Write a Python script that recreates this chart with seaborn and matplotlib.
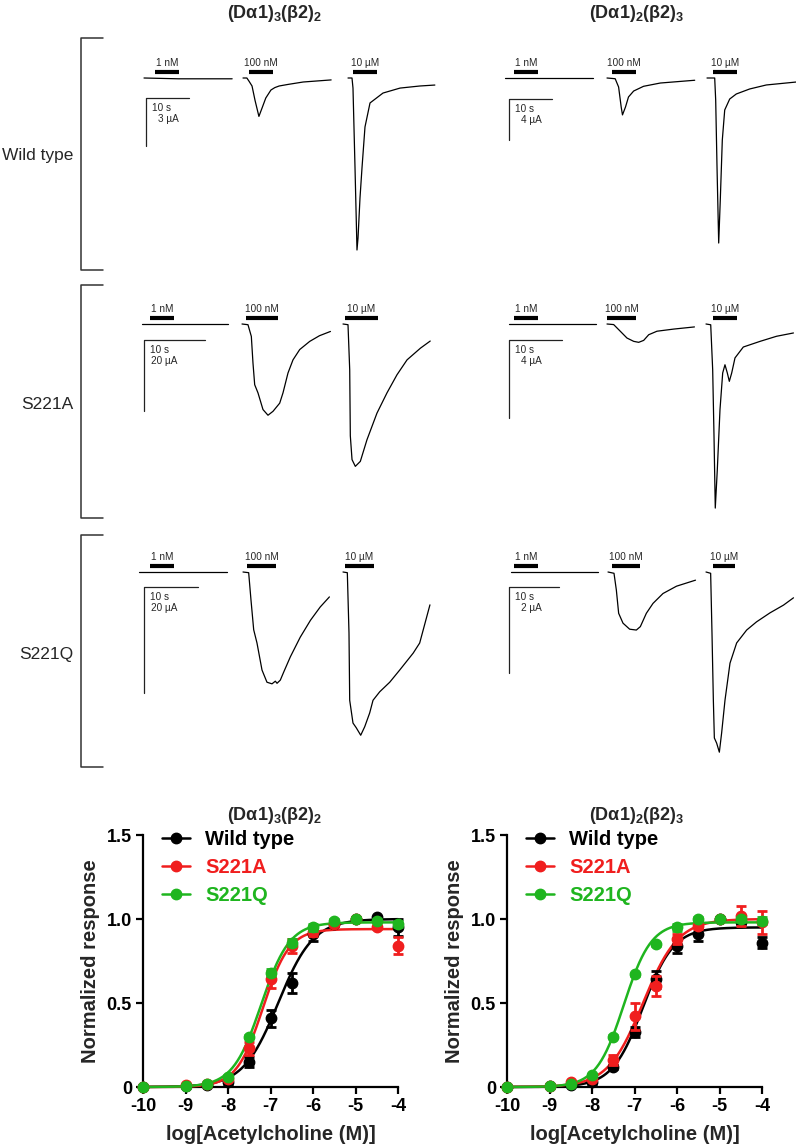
import numpy as np
import matplotlib
matplotlib.use("Agg")
import matplotlib.pyplot as plt
from matplotlib.lines import Line2D
import seaborn as sns

sns.set_theme(style="ticks")
plt.rcParams['font.family'] = ['Liberation Sans', 'DejaVu Sans']
plt.rcParams['mathtext.fontset'] = 'custom'
plt.rcParams['mathtext.rm'] = 'Liberation Sans:bold'
plt.rcParams['mathtext.it'] = 'Liberation Sans:bold'
plt.rcParams['mathtext.bf'] = 'Liberation Sans:bold'

# ---------------- current traces (time in s from trace start, current in uA) ----------------
conc_labels = ["1 nM", "100 nM", "10 µM"]
row_labels = ["Wild type", "S221A", "S221Q"]
scale_ua = [3, 4, 20, 4, 20, 2]   # vertical scale bars per panel

# wild type, (Da1)3(b2)2
t_wt32_1n = [0, 8, 20.5]
i_wt32_1n = [0, -0.05, -0.05]
t_wt32_100 = [0, 0.9, 1.4, 2.1, 2.8, 3.7, 4.4, 5.3, 6.5, 7.4, 8.4, 10.5, 14.0, 20.5]
i_wt32_100 = [0, 0, -0.2, -0.5, -1.4, -2.4, -1.9, -1.25, -0.75, -0.6, -0.5, -0.4, -0.25, -0.12]
t_wt32_10u = [0, 0.93, 1.16, 1.63, 2.09, 2.33, 2.79, 3.26, 3.95, 5.12, 8.14, 12.1, 16.7, 20.2]
i_wt32_10u = [0, 0, -0.63, -5.6, -10.75, -10.0, -7.5, -5.6, -3.06, -1.56, -0.94, -0.63, -0.5, -0.44]

# wild type, (Da1)2(b2)3
t_wt23_1n = [0, 20.5]
i_wt23_1n = [0, 0]
t_wt23_100 = [0, 1.9, 2.7, 3.3, 3.6, 4.3, 5.0, 6.2, 8.5, 12.4, 20.4]
i_wt23_100 = [0, -0.07, -0.88, -2.83, -3.6, -2.83, -1.85, -1.27, -0.81, -0.49, -0.22]
t_wt23_10u = [0, 1.79, 2.02, 2.33, 2.72, 3.09, 3.56, 4.12, 5.28, 6.81, 9.93, 13.8, 20.8]
i_wt23_10u = [0, 0, -2.15, -8.7, -16.1, -11.9, -6.05, -3.12, -2.05, -1.56, -1.07, -0.68, -0.39]

# S221A, (Da1)3(b2)2
t_a32_1n = [0, 14.1]
i_a32_1n = [0, 0]
t_a32_100 = [0, 0.98, 1.53, 1.8, 2.08, 2.62, 3.44, 4.26, 5.08, 6.18, 6.72, 7.54, 8.36, 9.46, 11.1, 12.7, 14.5]
i_a32_100 = [0, -0.2, -3.5, -11, -17.1, -19.4, -24.1, -25.7, -24.6, -22.3, -19.4, -13.8, -10.1, -7.2, -4.9, -3.3, -2.1]
t_a32_10u = [0, 0.82, 1.1, 1.2, 1.48, 2.02, 2.84, 3.93, 5.57, 7.21, 8.85, 10.5, 12.7, 14.3]
i_a32_10u = [0, -0.2, -12.9, -31.5, -38.2, -40.1, -38.7, -32.6, -25.1, -19.4, -14.3, -10.1, -6.8, -4.8]

# S221A, (Da1)2(b2)3
t_a23_1n = [0, 16.4]
i_a23_1n = [0, 0]
t_a23_100 = [0, 1.26, 2.5, 3.77, 5.04, 5.98, 6.92, 7.87, 9.43, 12.6, 16.5]
i_a23_100 = [0, -0.03, -0.37, -0.72, -0.89, -0.94, -0.84, -0.55, -0.37, -0.26, -0.15]
t_a23_10u = [0, 0.89, 1.26, 1.51, 1.75, 2.13, 2.64, 3.15, 3.58, 4.02, 4.4, 4.85, 5.47, 7.04, 10.2, 13.3, 16.5]
i_a23_10u = [0, -0.04, -2.34, -5.74, -9.44, -7.49, -4.39, -2.51, -2.09, -2.51, -2.94, -2.51, -1.74, -1.18, -0.89, -0.63, -0.46]

# S221Q, (Da1)3(b2)2
t_q32_1n = [0, 16.3]
i_q32_1n = [0, 0]
t_q32_100 = [0, 1.05, 1.48, 1.98, 2.59, 3.52, 4.44, 5.37, 5.99, 6.3, 6.91, 7.53, 8.77, 10.6, 12.5, 14.3, 16.0]
i_q32_100 = [0, -0.13, -5.3, -10.9, -13.4, -18.5, -20.8, -21.1, -20.6, -21.0, -20.4, -18.9, -16.0, -12.3, -9.1, -6.6, -4.7]
t_q32_10u = [0, 0.8, 1.11, 1.24, 1.85, 2.46, 3.28, 4.02, 4.94, 5.56, 6.8, 8.65, 10.5, 13.0, 14.2, 16.1]
i_q32_10u = [0, -0.13, -11.5, -24.2, -28.5, -29.4, -30.8, -29.2, -26.6, -24.2, -22.6, -20.8, -18.5, -15.3, -13.4, -6.2]

# S221Q, (Da1)2(b2)3
t_q23_1n = [0, 17.4]
i_q23_1n = [0, 0]
t_q23_100 = [0, 1.2, 1.67, 2.13, 3.0, 4.33, 5.67, 6.47, 7.67, 9.0, 11.0, 13.7, 17.5]
i_q23_100 = [0, -0.03, -0.42, -0.96, -1.19, -1.33, -1.35, -1.27, -0.96, -0.73, -0.5, -0.33, -0.19]
t_q23_10u = [0, 0.93, 1.2, 1.47, 1.67, 2.13, 2.67, 3.13, 3.8, 4.8, 6.13, 8.13, 10.1, 12.8, 15.5, 17.5]
i_q23_10u = [0, -0.03, -1.43, -2.98, -3.86, -3.98, -4.19, -3.74, -2.98, -2.12, -1.65, -1.35, -1.16, -0.95, -0.77, -0.6]

# ---------------- concentration-response data ----------------
log_conc = [-10, -9, -8.5, -8, -7.5, -7, -6.5, -6, -5.5, -5, -4.5, -4]
series_names = ["Wild type", "S221A", "S221Q"]

wt32_resp = [0, 0.005, 0.01, 0.03, 0.15, 0.41, 0.62, 0.91, 0.97, 1.0, 1.01, 0.95]
wt32_sem = [0, 0, 0, 0.01, 0.03, 0.05, 0.06, 0.04, 0.01, 0.01, 0.01, 0.05]
a32_resp = [0, 0.01, 0.02, 0.05, 0.23, 0.64, 0.84, 0.92, 0.97, 1.0, 0.95, 0.84]
a32_sem = [0, 0, 0, 0.01, 0.04, 0.05, 0.04, 0.02, 0.01, 0.01, 0.01, 0.05]
q32_resp = [0, 0.005, 0.02, 0.06, 0.30, 0.68, 0.86, 0.95, 0.99, 1.0, 0.99, 0.97]
q32_sem = [0, 0, 0, 0.01, 0.01, 0.02, 0.02, 0.02, 0.01, 0.01, 0.01, 0.02]

wt23_resp = [0, 0.005, 0.01, 0.03, 0.12, 0.33, 0.64, 0.84, 0.91, 1.0, 0.98, 0.86]
wt23_sem = [0, 0, 0, 0.01, 0.01, 0.03, 0.05, 0.04, 0.04, 0.01, 0.01, 0.03]
a23_resp = [0, 0.005, 0.03, 0.05, 0.16, 0.42, 0.60, 0.88, 0.96, 1.0, 1.02, 0.98]
a23_sem = [0, 0, 0, 0.01, 0.03, 0.08, 0.06, 0.03, 0.02, 0.01, 0.06, 0.07]
q23_resp = [0, 0.005, 0.02, 0.07, 0.30, 0.67, 0.85, 0.95, 1.0, 1.0, 1.0, 0.99]
q23_sem = [0, 0, 0, 0.01, 0.01, 0.01, 0.01, 0.02, 0.01, 0.01, 0.01, 0.02]

# fitted Hill parameters (WT, S221A, S221Q)
ec50_32 = [-6.82, -7.18, -7.22]
hill_32 = [1.05, 1.4, 1.3]
top_32 = [1.0, 0.94, 0.98]
ec50_23 = [-6.8, -6.8, -7.25]
hill_23 = [1.2, 1.05, 1.35]
top_23 = [0.95, 1.0, 0.98]

colors = ["#000000", "#f01e1e", "#1fb51f"]

# ---------------- figure ----------------
W, H = 796, 1148
fig = plt.figure(figsize=(W / 100, H / 100), dpi=100)


def px_axes(x0, y0, x1, y1):
    return fig.add_axes([x0 / W, 1 - y1 / H, (x1 - x0) / W, (y1 - y0) / H])


def ftext(x, y, s, **kw):
    fig.text(x / W, 1 - y / H, s, **kw)


titles = [r"(Dα1)$_3$(β2)$_2$", r"(Dα1)$_2$(β2)$_3$"]
ftext(275, 18, titles[0], ha='center', va='baseline', fontsize=13, fontweight='bold')
ftext(637, 18, titles[1], ha='center', va='baseline', fontsize=13, fontweight='bold')

# layout of trace panels (pixels)
col_x = [(105, 445), (470, 796)]
row_y = [(28, 276), (278, 526), (528, 776)]
panels = [
    dict(r=0, c=0, ox=144, oy=78, pps=4.3, ppu=16.0, starts=(144, 243, 348),
         bars=((11, 24), (6, 24), (5, 24)), sb=(146, 98)),
    dict(r=0, c=1, ox=505, oy=78, pps=4.3, ppu=10.25, starts=(505, 607, 707),
         bars=((9, 24), (5, 24), (6, 24)), sb=(509, 99)),
    dict(r=1, c=0, ox=142, oy=324, pps=6.1, ppu=3.55, starts=(142, 242, 343),
         bars=((8, 24), (4, 32), (2, 33)), sb=(144, 340)),
    dict(r=1, c=1, ox=509, oy=324, pps=5.3, ppu=19.5, starts=(509, 607, 706),
         bars=((5, 24), (0, 29), (7, 24)), sb=(509, 340)),
    dict(r=2, c=0, ox=139, oy=572, pps=5.4, ppu=5.3, starts=(139, 243, 343),
         bars=((11, 24), (4, 29), (2, 29)), sb=(144, 587)),
    dict(r=2, c=1, ox=511, oy=572, pps=5.0, ppu=43.0, starts=(511, 608, 706),
         bars=((3, 24), (4, 28), (7, 22)), sb=(509, 587)),
]
traces = [
    [(t_wt32_1n, i_wt32_1n), (t_wt32_100, i_wt32_100), (t_wt32_10u, i_wt32_10u)],
    [(t_wt23_1n, i_wt23_1n), (t_wt23_100, i_wt23_100), (t_wt23_10u, i_wt23_10u)],
    [(t_a32_1n, i_a32_1n), (t_a32_100, i_a32_100), (t_a32_10u, i_a32_10u)],
    [(t_a23_1n, i_a23_1n), (t_a23_100, i_a23_100), (t_a23_10u, i_a23_10u)],
    [(t_q32_1n, i_q32_1n), (t_q32_100, i_q32_100), (t_q32_10u, i_q32_10u)],
    [(t_q23_1n, i_q23_1n), (t_q23_100, i_q23_100), (t_q23_10u, i_q23_10u)],
]

for p, tr, ua in zip(panels, traces, scale_ua):
    x0, x1 = col_x[p['c']]
    y0, y1 = row_y[p['r']]
    ax = px_axes(x0, y0, x1, y1)
    ax.set_axis_off()
    ox, oy, pps, ppu = p['ox'], p['oy'], p['pps'], p['ppu']
    ax.set_xlim((x0 - ox) / pps, (x1 - ox) / pps)
    ax.set_ylim(-(y1 - oy) / ppu, -(y0 - oy) / ppu)
    for k, (t, cur) in enumerate(tr):
        shift = (p['starts'][k] - ox) / pps
        sns.lineplot(x=np.array(t) + shift, y=cur, ax=ax, color='black', lw=0.9,
                     sort=False, estimator=None)
        b0, bl = p['bars'][k]
        tb0 = (p['starts'][k] + b0 - ox) / pps
        tb1 = tb0 + bl / pps
        yb = 6 / ppu
        ax.plot([tb0, tb1], [yb, yb], color='black', lw=3, solid_capstyle='butt')
        ax.annotate(conc_labels[k], xy=((tb0 + tb1) / 2, yb), xytext=(0, 4),
                    textcoords='offset pixels', ha='center', va='bottom', fontsize=7.2)
    # scale bar
    tc = (p['sb'][0] - ox) / pps
    ic = -(p['sb'][1] - oy) / ppu
    ax.plot([tc + 10, tc, tc], [ic, ic, ic - ua], color='#222222', lw=0.9)
    ax.annotate("10 s", xy=(tc, ic), xytext=(6, -10), textcoords='offset pixels',
                ha='left', va='center', fontsize=7.2)
    ax.annotate(f"{ua} µA", xy=(tc, ic), xytext=(33, -21), textcoords='offset pixels',
                ha='right', va='center', fontsize=7.2)

# row brackets and labels
bracket_y = [(38, 270), (285, 518), (535, 767)]
label_y = [155, 405, 655]
for (yt, yb), ly, lab in zip(bracket_y, label_y, row_labels):
    fig.add_artist(Line2D([103 / W, 81 / W, 81 / W, 103 / W],
                          [1 - yt / H, 1 - yt / H, 1 - yb / H, 1 - yb / H],
                          color='#333333', lw=1.1))
    ftext(73, ly, lab, ha='right', va='center', fontsize=12.5)

# ---------------- concentration-response curves ----------------
resp_sets = [
    ([wt32_resp, a32_resp, q32_resp], [wt32_sem, a32_sem, q32_sem], ec50_32, hill_32, top_32),
    ([wt23_resp, a23_resp, q23_resp], [wt23_sem, a23_sem, q23_sem], ec50_23, hill_23, top_23),
]
axes_px = [(143, 835, 398, 1087), (507, 835, 762, 1087)]
title_x = [275, 637]

xs = np.linspace(-10, -4, 400)
for (resp, sem, ec, nh, top), box, tx, ttl in zip(resp_sets, axes_px, title_x, titles):
    ax = px_axes(*box)
    for j in [2, 1, 0]:
        curve = top[j] / (1 + 10 ** ((ec[j] - xs) * nh[j]))
        sns.lineplot(x=xs, y=curve, ax=ax, color=colors[j], lw=1.8, zorder=3 + j,
                     clip_on=False, estimator=None)
        ax.errorbar(log_conc, resp[j], yerr=sem[j], fmt='o', color=colors[j], ms=7.5,
                    elinewidth=2, capsize=3.6, capthick=2, clip_on=False, zorder=4 + j)
    ax.set_xlim(-10, -4)
    ax.set_ylim(0, 1.5)
    ax.set_xticks([-10, -9, -8, -7, -6, -5, -4])
    ax.set_xticklabels(["-10", "-9", "-8", "-7", "-6", "-5", "-4"])
    ax.set_yticks([0, 0.5, 1.0, 1.5])
    ax.set_yticklabels(["0", "0.5", "1.0", "1.5"])
    sns.despine(ax=ax)
    for s in ['left', 'bottom']:
        ax.spines[s].set_linewidth(1.6)
        ax.spines[s].set_color('black')
    ax.tick_params(length=5, width=1.6, pad=3, colors='black', labelsize=13)
    for lab in ax.get_xticklabels() + ax.get_yticklabels():
        lab.set_fontweight('bold')
    ax.set_xlabel("log[Acetylcholine (M)]", fontsize=14.5, fontweight='bold')
    ax.set_ylabel("Normalized response", fontsize=14.5, fontweight='bold')
    ax.xaxis.set_label_coords(0.5, -0.15)
    ax.yaxis.set_label_coords(-0.17, 0.5)
    ftext(tx, 820, ttl, ha='center', va='baseline', fontsize=13, fontweight='bold')
    handles = [Line2D([], [], color=c, marker='o', ms=7.5, lw=1.8) for c in colors]
    ax.legend(handles, series_names, loc='upper left', bbox_to_anchor=(0.076, 1.021),
              frameon=False, prop={'weight': 'bold', 'size': 14.5}, labelcolor=colors,
              handlelength=1.38, handletextpad=0.75, labelspacing=0.45, borderpad=0,
              borderaxespad=0)

fig.savefig("out.png", dpi=100)
